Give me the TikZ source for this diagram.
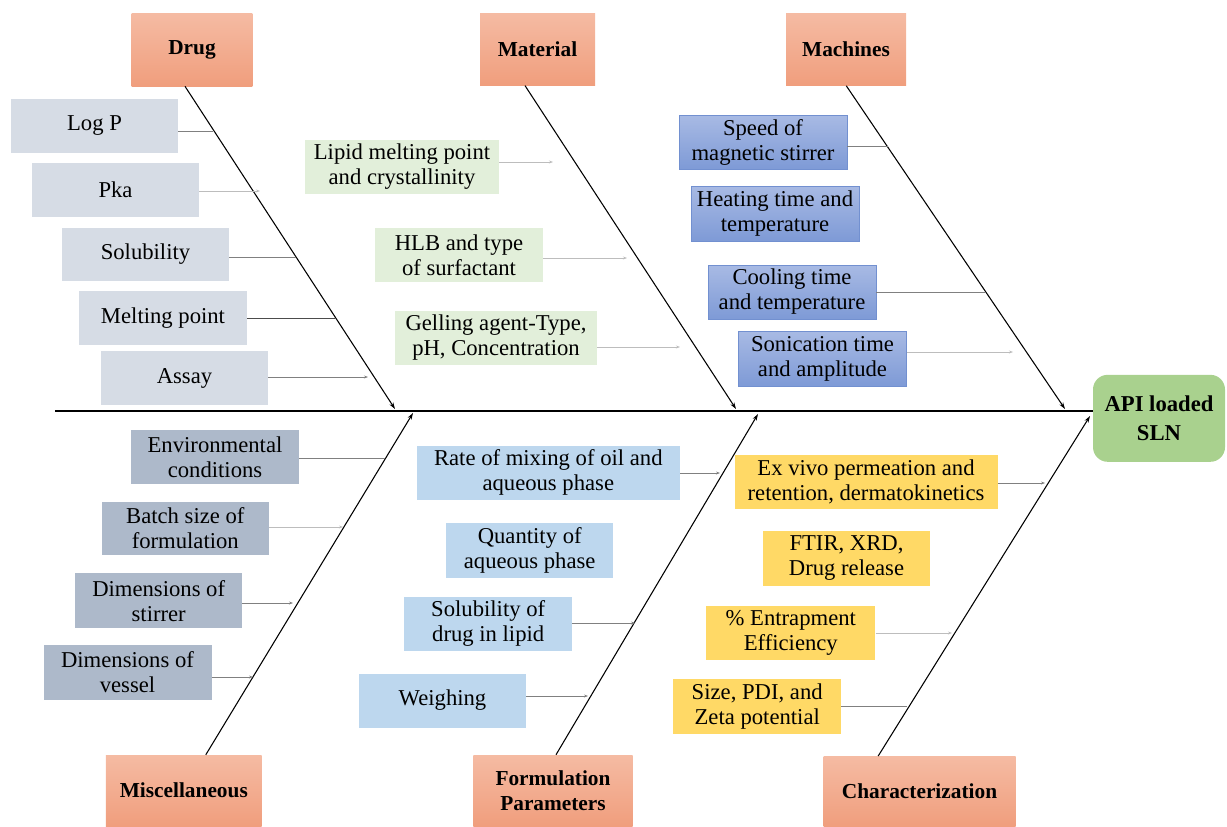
\documentclass[tikz,border=0pt]{standalone}
\usepackage{fontspec}
\setmainfont{Liberation Serif}
\usetikzlibrary{arrows.meta,calc}
\definecolor{catT}{HTML}{F5BBA3}
\definecolor{catB}{HTML}{F09E7D}
\definecolor{drugC}{HTML}{D6DCE5}
\definecolor{matC}{HTML}{E2EFDA}
\definecolor{machT}{HTML}{A8BAE4}
\definecolor{machB}{HTML}{7E9AD6}
\definecolor{machD}{HTML}{7290D0}
\definecolor{miscC}{HTML}{ADB9CA}
\definecolor{formC}{HTML}{BDD7EE}
\definecolor{charC}{HTML}{FFD966}
\definecolor{apiC}{HTML}{A9D18E}
\definecolor{lineC}{HTML}{808080}
\definecolor{faintC}{HTML}{BDBDBD}
\begin{document}
\begin{tikzpicture}[x=0.75pt,y=-0.75pt,
  sz/.style 2 args={minimum width=#1*0.75pt, minimum height=#2*0.75pt},
  item/.style={inner sep=1pt, align=center, font=\fontsize{17}{18.75}\selectfont},
  cat/.style={top color=catT, bottom color=catB, inner sep=1pt, align=center, font=\bfseries\fontsize{16}{18.75}\selectfont},
  drugbox/.style={item, fill=drugC},
  matbox/.style={item, fill=matC},
  machbox/.style={item, top color=machT, bottom color=machB, draw=machD, line width=0.4pt},
  miscbox/.style={item, fill=miscC},
  formbox/.style={item, fill=formC},
  charbox/.style={item, fill=charC},
  bone/.style={draw=black, line width=0.8pt, -{Stealth[length=5pt,width=3.2pt]}},
  sub/.style={draw=lineC, line width=0.6pt},
  suba/.style={draw=lineC, line width=0.6pt, -{Stealth[length=3pt,width=2.2pt]}},
  subf/.style={draw=faintC, line width=0.6pt, -{Stealth[length=3pt,width=2.2pt]}}
]
\useasboundingbox (0,0) rectangle (1227,826);

% categories
\node[cat,sz={120.7}{72.7}] (drug) at (192,49.7) {Drug};
\node[cat,sz={115}{72}] (mat) at (537.5,49.3) {Material};
\node[cat,sz={120}{72}] (mach) at (846,49.5) {Machines};
\node[cat,sz={155.7}{71}] (misc) at (183.8,790.5) {Miscellaneous};
\node[cat,sz={159.3}{71}] (form) at (553,790.5) {Formulation\\Parameters};
\node[cat,sz={192}{70}] (char) at (919.5,791.3) {Characterization};

% head
\node[item, fill=apiC, rounded corners=11pt, sz={132}{87}, font=\bfseries\fontsize{17}{22}\selectfont] (api) at (1159,418.3) {API loaded\\SLN};

% spine
\coordinate (tail) at (55,411);
\draw[black, line width=0.9pt] (tail) -- (api.west |- tail);

% bone ends on spine
\coordinate (bdrug) at (395,409);
\coordinate (bmat) at (736,409);
\coordinate (bmach) at (1065,409);
\coordinate (bmisc) at (413,413);
\coordinate (bform) at (758,414);
\coordinate (bchar) at (1090,416);

\draw[bone] ([xshift=-5.25pt]drug.south) -- (bdrug);
\draw[bone] ([xshift=-9.4pt]mat.south) -- (bmat);
\draw[bone] ([xshift=0.2pt]mach.south) -- (bmach);
\draw[bone] ([xshift=16.5pt]misc.north) -- (bmisc);
\draw[bone] ([xshift=2.25pt]form.north) -- (bform);
\draw[bone] ([xshift=-31pt]char.north) -- (bchar);

% Drug items
\node[drugbox,sz={167}{54}] (logp) at (94.5,126) {Log P};
\node[drugbox,sz={167}{54}] (pka) at (115.5,190) {Pka};
\node[drugbox,sz={167}{53}] (sol) at (145.5,254.5) {Solubility};
\node[drugbox,sz={168}{54}] (melt) at (163,318) {Melting point};
\node[drugbox,sz={167}{54}] (assay) at (184.5,378) {Assay};

% Material items
\node[matbox,sz={194}{54}] (lipid) at (402,167) {Lipid melting point\\and crystallinity};
\node[matbox,sz={168}{54}] (hlb) at (459,255) {HLB and type\\of surfactant};
\node[matbox,sz={202}{54}] (gel) at (496,338) {Gelling agent-Type,\\pH, Concentration};

% Machines items
\node[machbox,sz={168}{54}] (speed) at (763,142) {Speed of\\magnetic stirrer};
\node[machbox,sz={168}{55}] (heat) at (775,213.5) {Heating time and\\temperature};
\node[machbox,sz={168}{54}] (cool) at (792,292) {Cooling time\\and temperature};
\node[machbox,sz={168}{55}] (soni) at (822.5,358.5) {Sonication time\\and amplitude};

% Misc items
\node[miscbox,sz={168}{54}] (env) at (215,457) {Environmental\\conditions};
\node[miscbox,sz={167}{53}] (batch) at (185.3,528.3) {Batch size of\\formulation};
\node[miscbox,sz={167}{55}] (dstir) at (158.7,600.7) {Dimensions of\\stirrer};
\node[miscbox,sz={168}{55}] (dves) at (127.5,672.5) {Dimensions of\\vessel};

% Formulation items
\node[formbox,sz={263}{54}] (rate) at (548.3,472.8) {Rate of mixing of oil and\\aqueous phase};
\node[formbox,sz={167}{55}] (qty) at (529.7,550.8) {Quantity of\\aqueous phase};
\node[formbox,sz={168}{54}] (sold) at (488.2,623.7) {Solubility of\\drug in lipid};
\node[formbox,sz={167}{54}] (weigh) at (442.5,700.5) {Weighing};

% Characterization items
\node[charbox,sz={263}{54}] (exv) at (866,482) {Ex vivo permeation and\\retention, dermatokinetics};
\node[charbox,sz={167}{55}] (ftir) at (846.5,558.3) {FTIR, XRD,\\Drug release};
\node[charbox,sz={169}{54}] (entr) at (790.8,632.8) {\% Entrapment\\Efficiency};
\node[charbox,sz={168}{55}] (size) at (757.2,706.7) {Size, PDI, and\\Zeta potential};

% connector ends
\coordinate (elogp) at (213,131);
\coordinate (epka) at (260,191);
\coordinate (esol) at (296,257);
\coordinate (emelt) at (335,318);
\coordinate (eassay) at (368,377);
\coordinate (elipid) at (553,162);
\coordinate (ehlb) at (627,258);
\coordinate (egel) at (680,347);
\coordinate (espeed) at (888,146);
\coordinate (ecool) at (985,292);
\coordinate (esoni) at (1013,352);
\coordinate (eenv) at (385,458);
\coordinate (ebatch) at (343,527);
\coordinate (edstir) at (293,603);
\coordinate (edves) at (253,677);
\coordinate (erate) at (720,473);
\coordinate (esold) at (635,623);
\coordinate (eweigh) at (588,696);
\coordinate (eexv) at (1045,483);
\coordinate (eentr) at (952,633);
\coordinate (esize) at (907,706);

% connectors
\draw[sub] (logp.east |- elogp) -- (elogp);
\draw[subf] (pka.east |- epka) -- (epka);
\draw[sub] (sol.east |- esol) -- (esol);
\draw[sub, draw=black!70] (melt.east |- emelt) -- (emelt);
\draw[suba] (assay.east |- eassay) -- (eassay);
\draw[subf] (lipid.east |- elipid) -- (elipid);
\draw[subf] (hlb.east |- ehlb) -- (ehlb);
\draw[subf] (gel.east |- egel) -- (egel);
\draw[sub] (speed.east |- espeed) -- (espeed);
\draw[sub] (cool.east |- ecool) -- (ecool);
\draw[subf] (soni.east |- esoni) -- (esoni);
\draw[sub] (env.east |- eenv) -- (eenv);
\draw[subf] (batch.east |- ebatch) -- (ebatch);
\draw[suba] (dstir.east |- edstir) -- (edstir);
\draw[suba] (dves.east |- edves) -- (edves);
\draw[suba] (rate.east |- erate) -- (erate);
\draw[suba] (sold.east |- esold) -- (esold);
\draw[suba] (weigh.east |- eweigh) -- (eweigh);
\draw[suba] (exv.east |- eexv) -- (eexv);
\draw[subf] (entr.east |- eentr) -- (eentr);
\draw[sub] (size.east |- esize) -- (esize);
\end{tikzpicture}
\end{document}
